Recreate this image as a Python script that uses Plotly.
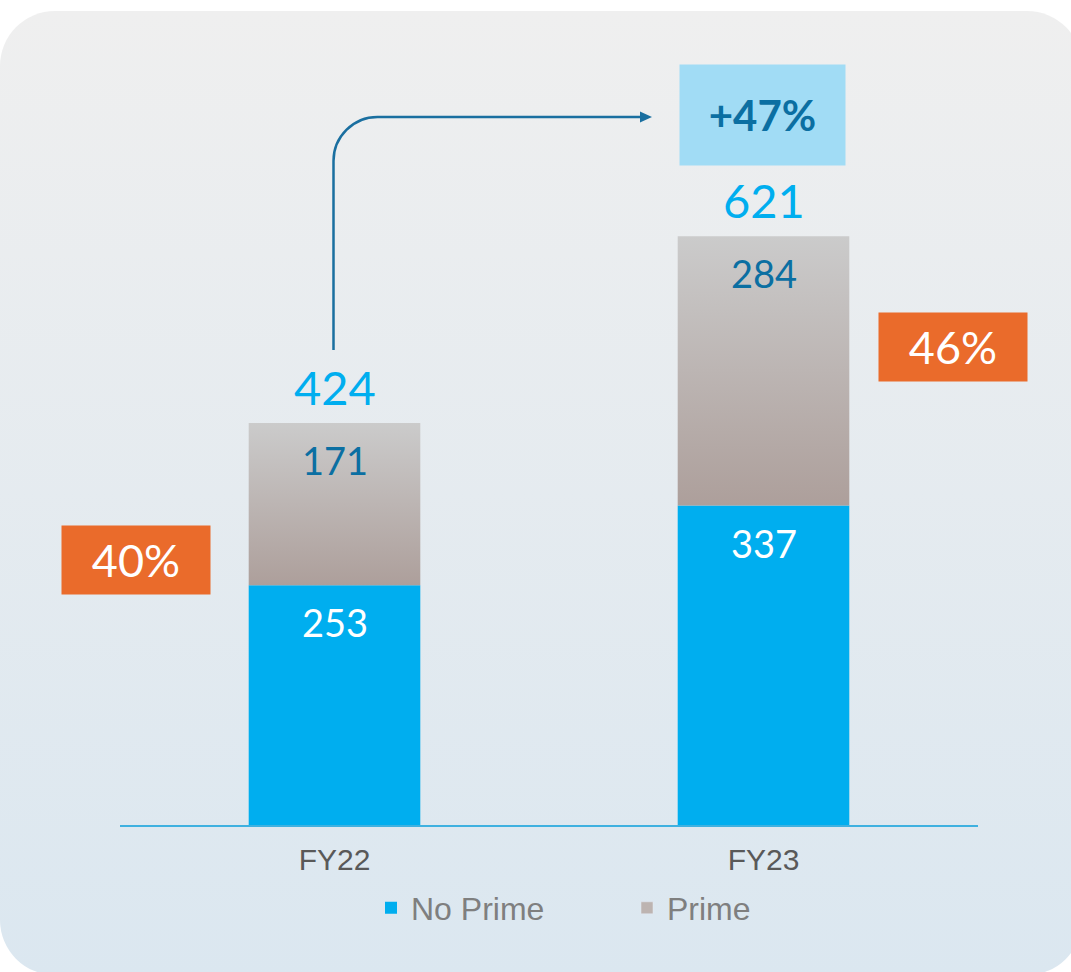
import base64
import plotly.graph_objects as go

# ---- data ----
categories = ["FY22", "FY23"]
no_prime = [253, 337]
prime = [171, 284]
prime_share_labels = ["40%", "46%"]
growth_label = "+47%"
series_names = ["No Prime", "Prime"]

totals = [a + b for a, b in zip(no_prime, prime)]

W, H = 1071, 972
NUM_FONT = "Lato"

def fx(px):
    return px / W

def fy(py):
    return 1 - py / H

x_pos = list(range(len(categories)))
BAR_W = 0.4

fig = go.Figure()

# No Prime bars
fig.add_trace(go.Bar(
    x=x_pos, y=no_prime, width=BAR_W, name=series_names[0],
    marker=dict(color="#00aeef", line=dict(width=0)),
    hoverinfo="skip",
))

# Prime segments with vertical gradient
for i, (b, p) in enumerate(zip(no_prime, prime)):
    x0, x1 = x_pos[i] - BAR_W / 2, x_pos[i] + BAR_W / 2
    y0, y1 = b, b + p
    fig.add_trace(go.Scatter(
        x=[x0, x1, x1, x0, x0], y=[y0, y0, y1, y1, y0],
        mode="none", fill="toself",
        fillgradient=dict(type="vertical",
                          colorscale=[[0, "#ad9f9b"], [1, "#cbcbcb"]]),
        showlegend=False, hoverinfo="skip",
    ))

# legend entry for Prime
fig.add_trace(go.Bar(
    x=[None], y=[None], name=series_names[1],
    marker=dict(color="#bdb4b1"), hoverinfo="skip",
))

annotations = []
for i in range(len(categories)):
    # totals above the bars
    annotations.append(dict(
        x=x_pos[i], y=totals[i], xref="x", yref="y", text=str(totals[i]),
        showarrow=False, yanchor="middle", yshift=36,
        font=dict(family=NUM_FONT, size=47, color="#00aeef"),
    ))
    # prime value inside top segment
    annotations.append(dict(
        x=x_pos[i], y=totals[i], xref="x", yref="y", text=str(prime[i]),
        showarrow=False, yanchor="middle", yshift=-37,
        font=dict(family=NUM_FONT, size=38, color="#0b6fa2"),
    ))
    # no-prime value inside bottom segment
    annotations.append(dict(
        x=x_pos[i], y=no_prime[i], xref="x", yref="y", text=str(no_prime[i]),
        showarrow=False, yanchor="middle", yshift=-37,
        font=dict(family=NUM_FONT, size=38, color="white"),
    ))

# share boxes
share_boxes = [(136, 559.5), (953, 347)]
for lbl, (cx, cy) in zip(prime_share_labels, share_boxes):
    annotations.append(dict(
        x=fx(cx), y=fy(cy), xref="paper", yref="paper", text=lbl,
        showarrow=False, xanchor="center", yanchor="middle",
        width=142, height=62, bgcolor="#ea6b2b", borderpad=3,
        font=dict(family=NUM_FONT, size=45, color="white"),
    ))

# growth box
annotations.append(dict(
    x=fx(762.5), y=fy(115), xref="paper", yref="paper",
    text="<b>" + growth_label + "</b>",
    showarrow=False, xanchor="center", yanchor="middle",
    width=159, height=94, bgcolor="#a1dcf5", borderpad=3,
    font=dict(family=NUM_FONT, size=42, color="#0b6fa2"),
))

# arrow path (rounded corner)
r = 44
k = 0.5523 * r
xv, yh = 333.5, 117
path = (f"M {fx(xv)},{fy(350)} L {fx(xv)},{fy(yh + r)} "
        f"C {fx(xv)},{fy(yh + r - k)} {fx(xv + r - k)},{fy(yh)} {fx(xv + r)},{fy(yh)} "
        f"L {fx(642)},{fy(yh)}")
shapes = [
    dict(type="path", path=path, xref="paper", yref="paper",
         line=dict(color="#1a6fa0", width=2.5), layer="above"),
    dict(type="path", xref="paper", yref="paper",
         path=f"M {fx(640)},{fy(yh - 5.5)} L {fx(652)},{fy(yh)} L {fx(640)},{fy(yh + 5.5)} Z",
         fillcolor="#1a6fa0", line=dict(width=0), layer="above"),
]

# rounded gradient panel as background image
svg = f"""<svg xmlns='http://www.w3.org/2000/svg' width='{W}' height='{H}'>
<defs><linearGradient id='g' x1='0' y1='0' x2='0' y2='1'>
<stop offset='0' stop-color='#efefef'/><stop offset='1' stop-color='#dbe7f0'/>
</linearGradient></defs>
<rect x='0' y='11' width='1082' height='964' rx='55' ry='55' fill='url(#g)'/>
</svg>"""
src = "data:image/svg+xml;base64," + base64.b64encode(svg.encode()).decode()

fig.update_layout(
    width=W, height=H,
    margin=dict(l=0, r=0, t=0, b=0),
    paper_bgcolor="white", plot_bgcolor="rgba(0,0,0,0)",
    barmode="overlay",
    annotations=annotations, shapes=shapes,
    images=[dict(source=src, xref="paper", yref="paper", x=0, y=1,
                 sizex=1, sizey=1, sizing="stretch", xanchor="left",
                 yanchor="top", layer="below")],
    xaxis=dict(domain=[fx(120), fx(978)], range=[-0.5, 1.5],
               tickvals=x_pos, ticktext=categories, showgrid=False,
               zeroline=False, showline=True, linecolor="#3fb1e0",
               linewidth=2, ticks="", ticklabelstandoff=7,
               tickfont=dict(family="Arial", size=30, color="#595959"),
               fixedrange=True),
    yaxis=dict(domain=[1 - 825 / H, 1], range=[0, 825 / 0.948],
               visible=False, fixedrange=True),
    legend=dict(orientation="h", x=fx(627), xanchor="center",
                y=fy(908), yanchor="middle", bgcolor="rgba(0,0,0,0)",
                font=dict(family="Arial", size=32, color="#7f7f7f"),
                entrywidth=211, traceorder="normal"),
    showlegend=True,
)

fig.write_html("out.html", post_script="document.body.style.margin='0';",
               config={"displayModeBar": False})
